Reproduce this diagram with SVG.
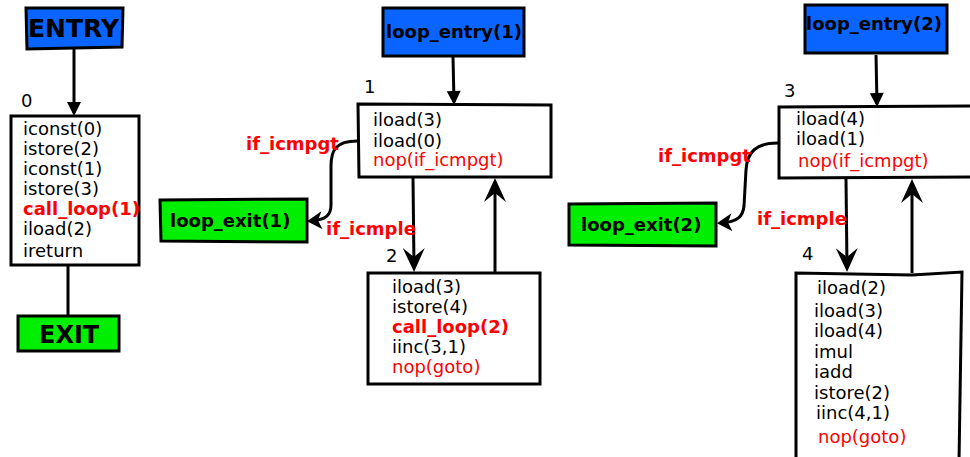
<svg xmlns="http://www.w3.org/2000/svg" width="970" height="457" viewBox="0 0 970 457">
<defs>
<style>
.box{fill:#fff;stroke:#000;stroke-width:3}
.ent{fill:#0a64ff;stroke:#000;stroke-width:3}
.ext{fill:#00ee00;stroke:#000;stroke-width:3}
text{font-family:"DejaVu Sans","Liberation Sans",sans-serif;font-size:18px;fill:#000}
.b{font-weight:bold}
.r{fill:#ff0000}
.lbl{font-weight:bold;fill:#ff0000}
.edge{fill:none;stroke:#000;stroke-width:3}
</style>
<marker id="tri" markerUnits="userSpaceOnUse" markerWidth="24" markerHeight="20" viewBox="-20 -10 24 20" refX="-3" refY="0" orient="auto">
<path d="M0,0 L-14,-7 L-14,7 Z" fill="#000"/>
</marker>
<marker id="big" markerUnits="userSpaceOnUse" markerWidth="34" markerHeight="30" viewBox="-30 -15 34 30" refX="-5" refY="0" orient="auto">
<path d="M0,0 L-24,-11 L-15,0 L-24,11 Z" fill="#000"/>
</marker>
<marker id="mid" markerUnits="userSpaceOnUse" markerWidth="24" markerHeight="22" viewBox="-20 -11 24 22" refX="-4" refY="0" orient="auto">
<path d="M0,0 L-15,-9 L-11,0 L-15,9 Z" fill="#000"/>
</marker>
</defs>

<g id="connectors">
<path class="edge" d="M74,48 L74,113" marker-end="url(#tri)"/>
<path class="edge" d="M68,265 L68,317"/>
<path class="edge" d="M453,57 L454,102" marker-end="url(#tri)"/>
<path class="edge" d="M357,141 C336,141 331,150 331,166 L331,205 C331,215 326,220 311,221" marker-end="url(#mid)"/>
<path class="edge" d="M413,178 L414,267" marker-end="url(#big)"/>
<path class="edge" d="M495,272 L495,183" marker-end="url(#big)"/>
<path class="edge" d="M876,55 L877,104" marker-end="url(#tri)"/>
<path class="edge" d="M778,143 C756,143 747,152 746,170 L744,206 C743,216 738,222 721,223" marker-end="url(#mid)"/>
<path class="edge" d="M846,179 L847,267" marker-end="url(#big)"/>
<path class="edge" d="M912,273 L912,184" marker-end="url(#big)"/>
</g>

<g id="entry">
<path class="ent" d="M26,8 L123,8 L122,47 L27,49 Z"/>
<text class="b" x="28" y="37" style="font-size:25px">ENTRY</text>
</g>

<g id="b0">
<text x="21" y="107">0</text>
<rect class="box" x="11" y="116" width="128" height="149"/>
<text x="23" y="135">iconst(0)</text>
<text x="23" y="155">istore(2)</text>
<text x="23" y="175">iconst(1)</text>
<text x="23" y="195">istore(3)</text>
<text x="23" y="215" class="b r">call_loop(1)</text>
<text x="23" y="235">iload(2)</text>
<text x="23" y="257">ireturn</text>
</g>

<g id="exit">
<rect class="ext" x="18" y="316" width="101" height="35"/>
<text class="b" x="39" y="343" style="font-size:24px">EXIT</text>
</g>

<g id="loop_entry1">
<rect class="ent" x="383" y="8" width="141" height="48"/>
<text class="b" x="386" y="38">loop_entry(1)</text>
</g>

<g id="b1">
<text x="364" y="93">1</text>
<path class="box" d="M358,104 L551,105 L551,177 L359,177 Z"/>
<text x="373" y="126">iload(3)</text>
<text x="373" y="147">iload(0)</text>
<text x="373" y="166" class="r">nop(if_icmpgt)</text>
</g>

<g id="loop_exit1">
<path class="ext" d="M160,200 L307,199 L307,242 L161,241 Z"/>
<text class="b" x="170" y="227">loop_exit(1)</text>
</g>
<text class="lbl" x="246" y="150">if_icmpgt</text>
<text class="lbl" x="326" y="235">if_icmple</text>

<g id="b2">
<text x="386" y="262">2</text>
<rect class="box" x="368" y="273" width="172" height="111"/>
<text x="392" y="293">iload(3)</text>
<text x="392" y="313">istore(4)</text>
<text x="392" y="333" class="b r">call_loop(2)</text>
<text x="392" y="353">iinc(3,1)</text>
<text x="392" y="373" class="r">nop(goto)</text>
</g>

<g id="loop_entry2">
<rect class="ent" x="805" y="5" width="142" height="48"/>
<text class="b" x="806" y="30">loop_entry(2)</text>
</g>

<g id="b3">
<text x="784" y="97">3</text>
<path class="box" d="M973,106 L779,107 L779,178 L973,177"/>
<text x="796" y="125">iload(4)</text>
<text x="796" y="145">iload(1)</text>
<text x="798" y="167" class="r">nop(if_icmpgt)</text>
</g>

<g id="loop_exit2">
<path class="ext" d="M569,204 L716,203 L716,246 L569,245 Z"/>
<text class="b" x="581" y="231">loop_exit(2)</text>
</g>
<text class="lbl" x="658" y="162">if_icmpgt</text>
<text class="lbl" x="757" y="225">if_icmple</text>

<g id="b4">
<text x="802" y="260">4</text>
<path class="box" d="M796,462 L796,273 L912,275 L962,272 L959,462"/>
<text x="817" y="294">iload(2)</text>
<text x="814" y="317">iload(3)</text>
<text x="814" y="337">iload(4)</text>
<text x="814" y="358">imul</text>
<text x="814" y="378">iadd</text>
<text x="814" y="399">istore(2)</text>
<text x="816" y="419">iinc(4,1)</text>
<text x="818" y="443" class="r">nop(goto)</text>
</g>
</svg>
